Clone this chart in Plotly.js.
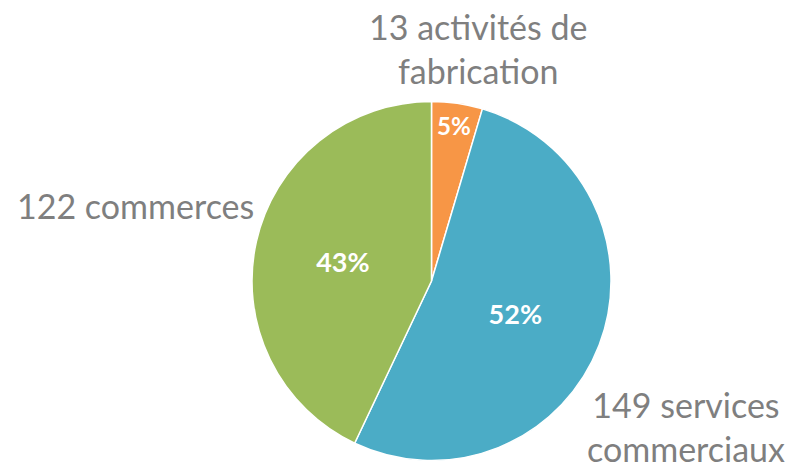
<!DOCTYPE html>
<html>
<head>
<meta charset="utf-8">
<script src="https://cdn.plot.ly/plotly-3.0.1.min.js"></script>
<style>html,body{margin:0;padding:0;background:#fff;}#chart{width:790px;height:462px;}</style>
</head>
<body>
<div id="chart"></div>
<script>
var categories = ["activités de<br>fabrication", "services<br>commerciaux", "commerces"];
var counts = [13, 149, 122];
var colors = ["#F79646", "#4BACC6", "#9BBB59"];

var labelText = categories.map(function(c, i){ return counts[i] + " " + c; });
// label anchor positions in pixels (layout only)
var labelPos = [[478, 48], [686, 426], [135, 205]];

var W = 790, H = 462;
var annotations = labelText.map(function(t, i){
  return {
    text: t, xref: "paper", yref: "paper",
    x: labelPos[i][0] / W, y: 1 - labelPos[i][1] / H,
    xanchor: "center", yanchor: "middle", showarrow: false,
    font: {family: "Lato, 'Open Sans', sans-serif", size: 34, color: "#7F7F7F"}
  };
});

var trace = {
  type: "pie",
  values: counts,
  labels: categories,
  marker: {colors: colors, line: {color: "#FFFFFF", width: 1.5}},
  sort: false,
  direction: "clockwise",
  rotation: 0,
  textinfo: "percent",
  texttemplate: "%{percent:.0%}",
  textposition: "inside",
  insidetextorientation: "horizontal",
  insidetextfont: {family: "Lato, 'Open Sans', sans-serif", size: 27, color: "#FFFFFF", weight: "bold"},
  hoverinfo: "none",
  domain: {x: [252 / W, 611 / W], y: [1 - 461 / H, 1 - 101 / H]},
  automargin: false
};

var layout = {
  width: W, height: H,
  margin: {l: 0, r: 0, t: 0, b: 0},
  paper_bgcolor: "#FFFFFF",
  showlegend: false,
  annotations: annotations
};

Plotly.newPlot("chart", [trace], layout, {displayModeBar: false, staticPlot: true});
</script>
</body>
</html>
